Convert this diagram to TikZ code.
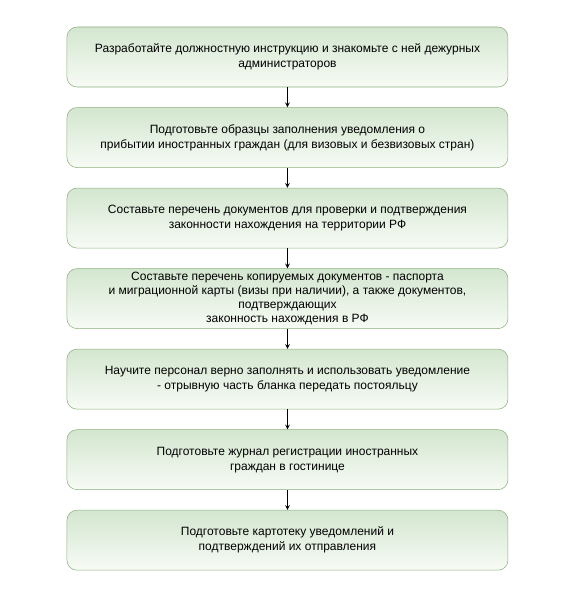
\documentclass[tikz,border=0pt]{standalone}
\usepackage{fontspec}
\setmainfont{Liberation Sans}
\usetikzlibrary{shapes.geometric, arrows, positioning}
\definecolor{boxline}{HTML}{8DB07C}
\definecolor{boxtop}{HTML}{D3E6CF}
\definecolor{boxbottom}{HTML}{F7FBF5}
\tikzstyle{greenbox} = [rectangle, rounded corners=7.5pt, minimum width=330.75pt, minimum height=45pt, draw=boxline, top color=boxtop, bottom color=boxbottom, align=center, font=\fontsize{9}{11.25}\selectfont]
\tikzstyle{arrow} = [semithick,->,>=stealth]

\begin{document}
\begin{tikzpicture}[align=center, node distance=15pt]

      \useasboundingbox (0pt,0pt) rectangle (430.5pt,-451.5pt);
      \node (instr) [greenbox] at (215.6pt,-42.75pt) {Разработайте должностную инструкцию и знакомьте с ней дежурных\\администраторов};
      \node (forms) [greenbox, below=of instr] {Подготовьте образцы заполнения уведомления о\\прибытии иностранных граждан (для визовых и безвизовых стран)};
      \node (checklist) [greenbox, below=of forms] {Составьте перечень документов для проверки и подтверждения\\законности нахождения на территории РФ};
      \node (copies) [greenbox, below=of checklist, inner ysep=0pt, font=\fontsize{9}{10.4}\selectfont] {Составьте перечень копируемых документов - паспорта\\и миграционной карты (визы при наличии), а также документов,\\подтверждающих\\законность нахождения в РФ};
      \node (staff) [greenbox, below=of copies] {Научите персонал верно заполнять и использовать уведомление\\- отрывную часть бланка передать постояльцу};
      \node (journal) [greenbox, below=of staff] {Подготовьте журнал регистрации иностранных\\граждан в гостинице};
      \node (cards) [greenbox, below=of journal] {Подготовьте картотеку уведомлений и\\подтверждений их отправления};
      \draw [arrow] (instr) -- (forms);
      \draw [arrow] (forms) -- (checklist);
      \draw [arrow] (checklist) -- (copies);
      \draw [arrow] (copies) -- (staff);
      \draw [arrow] (staff) -- (journal);
      \draw [arrow] (journal) -- (cards);
    \end{tikzpicture}
\end{document}
